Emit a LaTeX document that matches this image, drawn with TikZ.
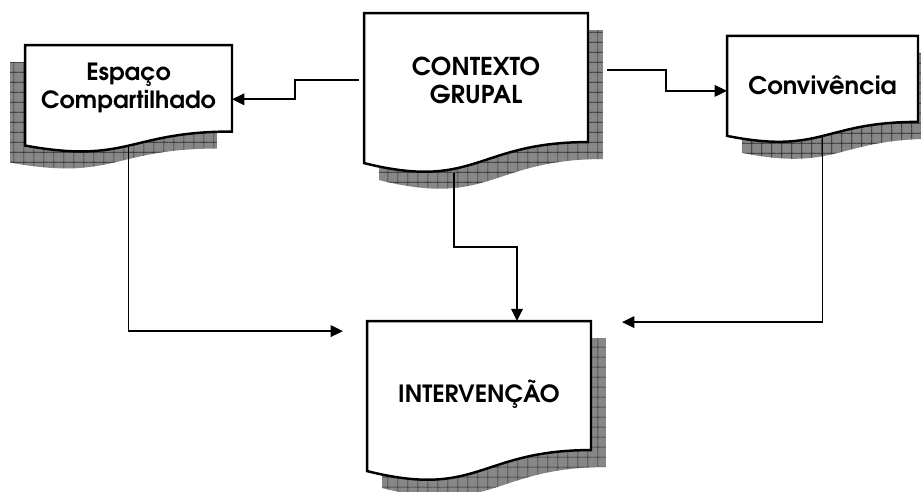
\documentclass[tikz,border=0pt]{standalone}
\usepackage{fontspec}
\setmainfont{TeX Gyre Adventor}
\usetikzlibrary{positioning}
\usetikzlibrary{calc}
\usetikzlibrary{arrows.meta}
\usetikzlibrary{patterns.meta}

\tikzdeclarepattern{
  name=shadowgrid,
  type=uncolored,
  bounding box={(0pt,0pt) and (5.6pt,5.6pt)},
  tile size={(5.6pt,5.6pt)},
  code={
    \draw[line width=0.4pt] (0pt,2.8pt) -- (5.6pt,2.8pt) (2.8pt,0pt) -- (2.8pt,5.6pt);
  }
}

% outline of a document box: node, drop of the lower control, drop of the left corner
\newcommand{\docpath}[3]{(#1.north west) -- (#1.north east) -- (#1.south east)
  .. controls (#1.south) and ($(#1.south)+(0,#2)$) .. ($(#1.south west)+(0,#3)$) -- cycle}
\newcommand{\docshape}[4]{%
  \begin{scope}[transform canvas={shift={#4}}]
    \fill[shadowfill] \docpath{#1}{#2}{#3};
  \end{scope}
  \draw[docline] \docpath{#1}{#2}{#3};
}

\begin{document}
\begin{tikzpicture}[x=0.02cm, y=-0.02cm,
    doc/.style={inner sep=0pt, outer sep=0pt},
    docline/.style={draw, line width=1.4pt, fill=white},
    shadowfill/.style={fill=black!47, postaction={pattern=shadowgrid, pattern color=black!85}},
    doctext/.style={font=\bfseries\fontsize{13.5}{16}\selectfont, align=center},
    conn/.style={line width=1.1pt, -{Triangle[length=7pt,width=6.5pt]}}]
  \useasboundingbox (0,0) rectangle (921,492);

  \node[doc, minimum width=4.14cm, minimum height=1.73cm] (esp) at (128.5,88.3) {};
  \node[doc, minimum width=4.48cm, minimum height=2.58cm] (ctx) at (476,77.6) {};
  \node[doc, minimum width=3.82cm, minimum height=1.72cm] (conv) at (822.5,78.9) {};
  \node[doc, minimum width=4.48cm, minimum height=2.58cm] (interv) at (479,385.6) {};

  \docshape{esp}{33}{14}{(-15,17)}
  \docshape{ctx}{49}{21}{(15,17)}
  \docshape{conv}{33}{14}{(15,17)}
  \docshape{interv}{49}{21}{(15,17)}

  \node[doctext] (esp-t) at (esp) {Espaço\\Compartilhado};
  \node[doctext, font=\bfseries\fontsize{14}{16}\selectfont] (ctx-t) at ([yshift=-0.05cm]ctx.center) {CONTEXTO\\GRUPAL};
  \node[doctext, font=\bfseries\fontsize{13.8}{16}\selectfont] (conv-t) at ([yshift=-0.12cm]conv.center) {Convivência};
  \node[doctext] (interv-t) at ([yshift=-0.18cm]interv.center) {INTERVENÇÃO};

  \draw[conn] ($(ctx.west)+(-5,2)$) -- ++(-64,0) |- ($(esp.east)+(0,11)$);
  \draw[conn] ($(ctx.east)+(19,-8)$) -- ++(59,0) |- ($(conv.west)+(0,12)$);
  \draw[conn] ($(ctx.south)+(-22,31)$) -- ++(0,74) -| ($(interv.north)+(38,0)$);
  \draw[conn] ($(esp.south)+(0,15)$) |- ($(interv.north west)+(-24,10)$);
  \draw[conn] ($(conv.south)+(0,14)$) |- ($(interv.north east)+(31,1)$);
\end{tikzpicture}
\end{document}
